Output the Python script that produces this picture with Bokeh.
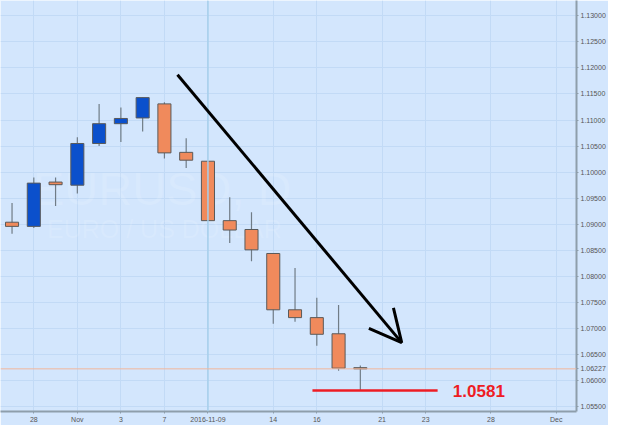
import pandas as pd
from bokeh.plotting import figure
from bokeh.models import (Range1d, FixedTicker, NumeralTickFormatter, Span, Label,
                          Arrow, OpenHead, ColumnDataSource)
from bokeh.embed import file_html
from bokeh.resources import INLINE

# ---------------- data ----------------
dates = ["2016-10-27", "2016-10-28", "2016-10-31", "2016-11-01", "2016-11-02",
         "2016-11-03", "2016-11-04", "2016-11-07", "2016-11-08", "2016-11-09",
         "2016-11-10", "2016-11-11", "2016-11-14", "2016-11-15", "2016-11-16",
         "2016-11-17", "2016-11-18"]
opens = [1.0904, 1.0896, 1.0981, 1.0975, 1.1055, 1.1093, 1.1104, 1.1131, 1.1038,
         1.1021, 1.0907, 1.0890, 1.0844, 1.0736, 1.0721, 1.0690, 1.0625]
highs = [1.0941, 1.0990, 1.0990, 1.1067, 1.1131, 1.1124, 1.1143, 1.1134, 1.1065,
         1.1021, 1.0952, 1.0923, 1.0844, 1.0816, 1.0759, 1.0745, 1.0629]
lows = [1.0882, 1.0893, 1.0935, 1.0959, 1.1050, 1.1058, 1.1078, 1.1026, 1.1008,
        1.0907, 1.0864, 1.0829, 1.0709, 1.0713, 1.0667, 1.0619, 1.0581]
closes = [1.0896, 1.0979, 1.0976, 1.1055, 1.1093, 1.1103, 1.1143, 1.1037, 1.1023,
          1.0907, 1.0889, 1.0851, 1.0736, 1.0721, 1.0689, 1.0624, 1.06227]

calendar_start = "2016-10-27"
calendar_end = "2016-12-01"
x_tick_dates = ["2016-10-28", "2016-11-01", "2016-11-03", "2016-11-07", "2016-11-09",
                "2016-11-14", "2016-11-16", "2016-11-21", "2016-11-23", "2016-11-28",
                "2016-12-01"]
x_tick_labels = ["28", "Nov", "3", "7", "2016-11-09", "14", "16", "21", "23", "28", "Dec"]
y_ticks = [1.055, 1.060, 1.065, 1.070, 1.075, 1.080, 1.085, 1.090, 1.095, 1.100,
           1.105, 1.110, 1.115, 1.120, 1.125, 1.130]

last_price = 1.06227
support_level = 1.0581
support_label = "1.0581"
support_from = 13.8      # trading-day index
support_to = 19.55
arrow_start = (7.6, 1.1187)
arrow_end = (17.9, 1.0673)
watermark_title = "EURUSD, D"
watermark_sub = "EURO / US DOLLAR"
crosshair_date = "2016-11-09"

# ---------------- trading-day index ----------------
cal = pd.bdate_range(calendar_start, calendar_end)
idx = {d.strftime("%Y-%m-%d"): i for i, d in enumerate(cal)}
xs = [idx[d] for d in dates]
tick_pos = [idx[d] for d in x_tick_dates]

BG = "#d3e6fd"
UP = "#0b50cc"
DOWN = "#f08a5c"

src = ColumnDataSource(dict(
    x=xs,
    high=highs, low=lows,
    top=[max(o, c) for o, c in zip(opens, closes)],
    bottom=[min(o, c) for o, c in zip(opens, closes)],
    color=[UP if c > o else DOWN for o, c in zip(opens, closes)],
))

X0, X1 = -0.53, 25.93
Y0, Y1 = 1.05409, 1.13293

p = figure(width=608, height=425, output_backend="svg", toolbar_location=None,
           x_range=Range1d(X0, X1), y_range=Range1d(Y0, Y1),
           y_axis_location="right", min_border=0,
           background_fill_color=BG, border_fill_color=BG)
p.outline_line_color = "#edf5fe"
p.outline_line_width = 1

# axes
p.xaxis.ticker = FixedTicker(ticks=tick_pos)
p.xaxis.major_label_overrides = {tp: lab for tp, lab in zip(tick_pos, x_tick_labels)}
p.yaxis.ticker = FixedTicker(ticks=y_ticks + [last_price])
p.yaxis.formatter = NumeralTickFormatter(format="0.00000")
for ax in (p.xaxis[0], p.yaxis[0]):
    ax.axis_line_color = "#8e9eab"
    ax.axis_line_width = 2
    ax.major_tick_line_color = "#8e9eab"
    ax.major_tick_out = 2
    ax.major_tick_in = 0
    ax.minor_tick_line_color = None
    ax.major_label_text_font = "Liberation Sans"
    ax.major_label_text_font_size = "7px"
    ax.major_label_text_color = "#555555"
    ax.major_label_standoff = 2
p.grid.grid_line_color = "#c2daf6"
p.grid.grid_line_width = 1
p.ygrid.ticker = FixedTicker(ticks=y_ticks)

# watermark (very faint)
p.add_layout(Label(x=6.9, y=1.0968, text=watermark_title, text_align="center",
                   text_baseline="middle", text_font="Liberation Sans",
                   text_font_size="47px", text_color="#ffffff", text_alpha=0.12,
                   level="underlay"))
p.add_layout(Label(x=7.0, y=1.0891, text=watermark_sub, text_align="center",
                   text_baseline="middle", text_font="Liberation Sans",
                   text_font_size="25px", text_color="#ffffff", text_alpha=0.12,
                   level="underlay"))

# crosshair at 2016-11-09
p.add_layout(Span(location=idx[crosshair_date], dimension="height",
                  line_color="#a6cfeb", line_width=1.5))
# last price line
p.add_layout(Span(location=last_price, dimension="width",
                  line_color="#f2b79c", line_width=1))

# candles
p.segment(x0="x", y0="high", x1="x", y1="low", source=src,
          line_color="#707c86", line_width=1.2)
p.vbar(x="x", width=0.6, top="top", bottom="bottom", source=src,
       fill_color="color", line_color="#5a5a5a", line_width=1)

# support line + label
p.line(x=[support_from, support_to], y=[support_level, support_level],
       line_color="#ee1c24", line_width=2.5)
p.add_layout(Label(x=support_to + 0.7, y=support_level, text=support_label,
                   text_align="left", text_baseline="middle",
                   text_font="Liberation Sans", text_font_style="bold",
                   text_font_size="17px", text_color="#ee1c24"))

# trend arrow
p.add_layout(Arrow(end=OpenHead(size=32, line_width=3, line_color="black"),
                   x_start=arrow_start[0], y_start=arrow_start[1],
                   x_end=arrow_end[0], y_end=arrow_end[1],
                   line_width=3, line_color="black"))

open("out.html", "w").write(file_html(p, INLINE))
